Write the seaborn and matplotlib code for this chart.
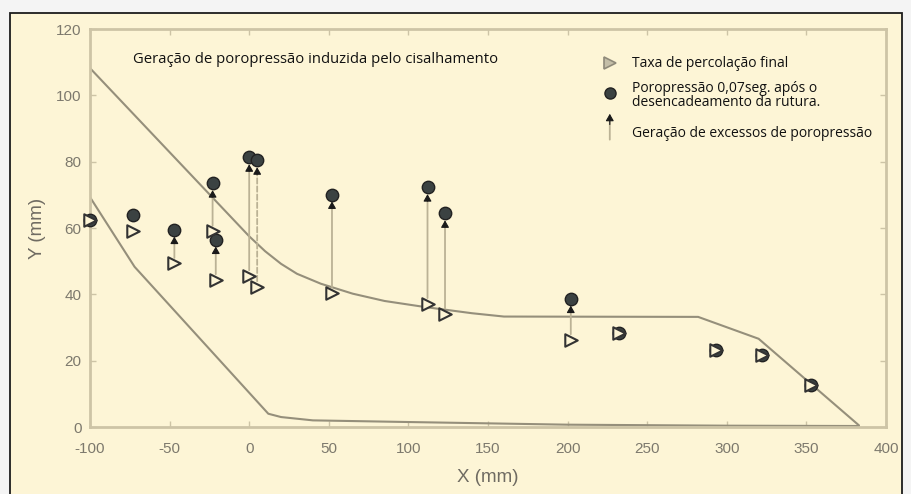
import matplotlib
matplotlib.use("Agg")
import matplotlib.pyplot as plt
from matplotlib.patches import Rectangle
import seaborn as sns
import pandas as pd

# Slope surface profile (upper line) and base (lower line), mm
surface_x = [-100, 0, 10, 20, 30, 45, 65, 85, 110, 140, 160, 282, 320, 383]
surface_y = [108.2, 57.5, 53.0, 49.2, 46.2, 43.2, 40.2, 38.0, 36.2, 34.3, 33.3, 33.2, 26.6, 0.5]
base_x = [-100, -72, 12, 20, 40, 100, 200, 300, 383]
base_y = [69.3, 48.3, 4.0, 3.0, 2.0, 1.5, 0.7, 0.4, 0.3]

# Sensor positions with final seepage level and pore pressure 0.07 s after failure
sensor_x = [-100, -73, -47, -23, -21, 0, 5, 52, 112, 123, 202, 232, 293, 322, 353]
final_y = [62.5, 59.2, 49.3, 59.0, 44.4, 45.6, 42.3, 40.5, 37.2, 34.1, 26.3, 28.4, 23.3, 21.8, 12.7]
pressure_y = [62.5, 64.0, 59.5, 73.5, 56.5, 81.3, 80.4, 70.1, 72.3, 64.4, 38.7, 28.4, 23.3, 21.8, 12.7]
# Sensors showing excess pore pressure generation (arrow drawn)
excess = [False, False, True, True, True, True, True, True, True, True, True, False, False, False, False]
dashed = [False, False, False, False, False, False, True, False, False, False, False, False, False, False, False]

x_ticks = [-100, -50, 0, 50, 100, 150, 200, 250, 300, 350, 400]
y_ticks = [0, 20, 40, 60, 80, 100, 120]

title_text = "Geração de poropressão induzida pelo cisalhamento"
legend_labels = ["Taxa de percolação final",
                 "Poropressão 0,07seg. após o\ndesencadeamento da rutura.",
                 "Geração de excessos de poropressão"]

BG = "#fdf5d6"
LINE = "#958f7b"
SPINE = "#cdc4a6"
SHAFT = "#bbb295"
TICKTXT = "#7d796d"
DARK = "#3b4242"
HEAD = "#1a1a1a"

sns.set_theme(style="ticks")
plt.rcParams["font.family"] = ["Liberation Sans", "DejaVu Sans"]
plt.rcParams["axes.unicode_minus"] = False

fig = plt.figure(figsize=(9.12, 4.94), dpi=100)
fig.patch.set_facecolor("#f4f4f4")
fig.patches.append(Rectangle((10 / 912, -0.02), 892 / 912, 1.02 - 13 / 494,
                             transform=fig.transFigure, facecolor=BG,
                             edgecolor="#1c1c1c", lw=1.3, zorder=-10))
ax = fig.add_axes([90 / 912, 1 - 427 / 494, 796 / 912, 398 / 494])
ax.set_facecolor(BG)

surf = pd.DataFrame({"x": surface_x, "y": surface_y})
base = pd.DataFrame({"x": base_x, "y": base_y})
sns.lineplot(data=surf, x="x", y="y", sort=False, color=LINE, lw=1.5, ax=ax, zorder=2)
sns.lineplot(data=base, x="x", y="y", sort=False, color=LINE, lw=1.5, ax=ax, zorder=2)

# Excess pore pressure arrows: tan shaft from the final level, small dark head
# just below the pore pressure reading
head_style = "-|>,head_length=0.35,head_width=0.2"
for xs, y0, y1, ex, ds in zip(sensor_x, final_y, pressure_y, excess, dashed):
    if not ex:
        continue
    ax.annotate("", xy=(xs, y1), xytext=(xs, y0),
                arrowprops=dict(arrowstyle="-", color=SHAFT, lw=1.3,
                                ls=(0, (3, 1.5)) if ds else "-",
                                shrinkA=4, shrinkB=7),
                zorder=3)
    ax.annotate("", xy=(xs, y1), xytext=(0, -10), textcoords="offset points",
                arrowprops=dict(arrowstyle=head_style, color=HEAD, lw=0.8,
                                shrinkA=0, shrinkB=5),
                zorder=3)

pts = pd.DataFrame({"x": sensor_x, "final": final_y, "pressure": pressure_y})
sns.scatterplot(data=pts, x="x", y="pressure", marker="o", s=80, color=DARK,
                edgecolor="#222", linewidth=1.0, ax=ax, zorder=4, clip_on=False)
sns.scatterplot(data=pts, x="x", y="final", marker=">", s=80, facecolor=BG,
                edgecolor="#333", linewidth=1.5, ax=ax, zorder=5, clip_on=False)

ax.set_xlim(-100, 400)
ax.set_ylim(0, 120)
ax.set_xticks(x_ticks)
ax.set_yticks(y_ticks)
ax.tick_params(direction="in", length=4, width=1.0, color=SPINE,
               labelcolor=TICKTXT, labelsize=11, top=True, right=True)
ax.tick_params(axis="x", pad=11)
ax.tick_params(axis="y", pad=6)
for sp in ax.spines.values():
    sp.set_color(SPINE)
    sp.set_linewidth(2.0)
ax.set_xlabel("X (mm)", fontsize=13.5, color="#6f6b62", labelpad=9)
ax.set_ylabel("Y (mm)", fontsize=13.5, color="#6f6b62", labelpad=7)

txt_font = ["Open Sans", "DejaVu Sans"]
ax.text(0.054, 0.924, title_text, transform=ax.transAxes, fontsize=10.7,
        family=txt_font, color="#111", va="center", ha="left")

# Legend drawn by hand so the arrow entry can be a vertical arrow
mx, tx = 0.653, 0.681
ax.plot([mx], [0.914], marker=">", ms=8, mfc="#c4bea8", mec="#8f8a7a", mew=1.2,
        transform=ax.transAxes, clip_on=False, zorder=6)
ax.plot([mx], [0.839], marker="o", ms=8, mfc=DARK, mec="#222", mew=1.0,
        transform=ax.transAxes, clip_on=False, zorder=6)
ax.annotate("", xy=(mx, 0.785), xytext=(mx, 0.722), xycoords="axes fraction",
            arrowprops=dict(arrowstyle="-", color=SHAFT, lw=1.3, shrinkA=0, shrinkB=2))
ax.annotate("", xy=(mx, 0.787), xytext=(mx, 0.76), xycoords="axes fraction",
            arrowprops=dict(arrowstyle=head_style, color=HEAD, lw=0.8, shrinkA=0, shrinkB=0))
ax.text(tx, 0.914, legend_labels[0], transform=ax.transAxes, fontsize=10,
        family=txt_font, color="#111", va="center", ha="left")
ax.text(tx, 0.833, legend_labels[1], transform=ax.transAxes, fontsize=10,
        family=txt_font, color="#111", va="center", ha="left", linespacing=0.85)
ax.text(tx, 0.738, legend_labels[2], transform=ax.transAxes, fontsize=10,
        family=txt_font, color="#111", va="center", ha="left")

fig.savefig("out.png", dpi=100, facecolor=fig.get_facecolor())
